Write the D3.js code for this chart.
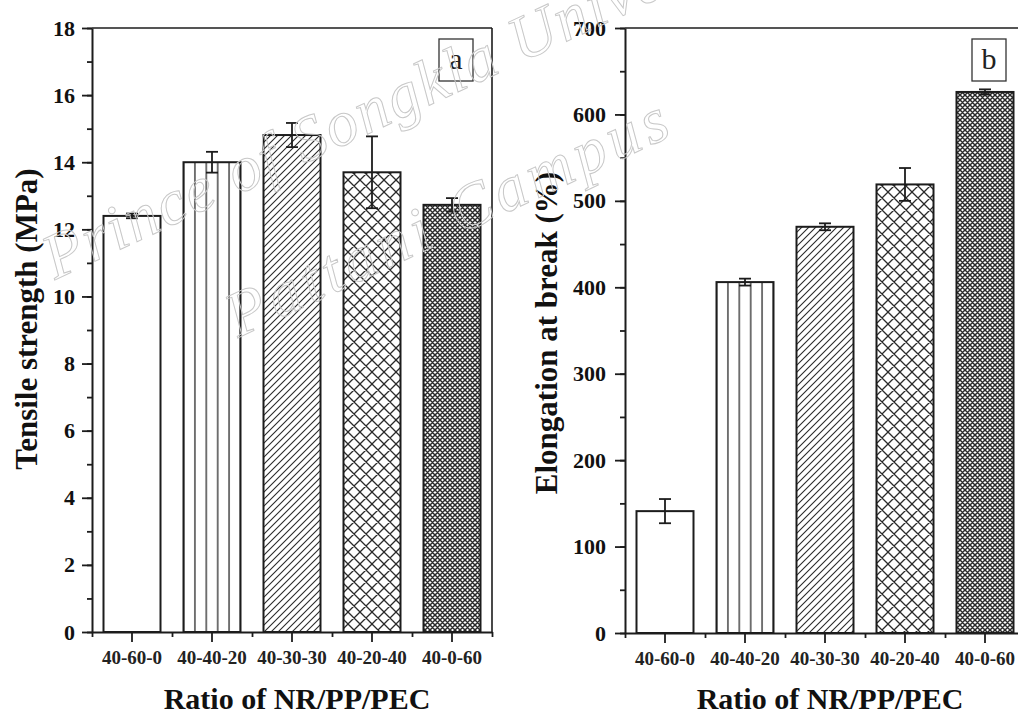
<!DOCTYPE html>
<html>
<head>
<meta charset="utf-8">
<script src="https://cdnjs.cloudflare.com/ajax/libs/d3/7.8.5/d3.min.js"></script>
<style>
  html, body { margin: 0; padding: 0; background: #fff; }
  svg { display: block; }
  text { font-family: "Liberation Serif", "DejaVu Serif", "Times New Roman", serif; }
</style>
</head>
<body>
<svg id="chart" width="1018" height="716"></svg>
<script>
// Blend ratios (NR/PP/PEC)
const categories = ["40-60-0", "40-40-20", "40-30-30", "40-20-40", "40-0-60"];

// (a) Tensile strength, MPa
const tensileStrength = [12.40, 14.00, 14.81, 13.70, 12.73];
const tensileError    = [0.07, 0.31, 0.36, 1.07, 0.20];
const tensileMajor = d3.range(0, 19, 2);
const tensileMinor = d3.range(0, 19, 1);

// (b) Elongation at break, %
const elongation      = [141, 406, 470, 519, 626];
const elongationError = [14, 4, 4, 19, 3];
const elongMajor = d3.range(0, 701, 100);
const elongMinor = d3.range(0, 701, 50);

const svg = d3.select("#chart");
const defs = svg.append("defs");
const ink = "#1c1c1c";

// Shared hatch patterns
function hatch(id, size, d, width) {
  const p = defs.append("pattern").attr("id", id)
    .attr("patternUnits", "userSpaceOnUse")
    .attr("width", size).attr("height", size);
  p.append("rect").attr("width", size).attr("height", size).attr("fill", "#fff");
  p.append("path").attr("d", d).attr("stroke", "#2a2a2a")
    .attr("stroke-width", width).attr("fill", "none");
}
hatch("diag", 7, "M-1,1 L1,-1 M0,7 L7,0 M6,8 L8,6", 1.1);
hatch("cross", 12, "M0,0 L12,12 M12,0 L0,12 M-1,1 L1,-1 M11,13 L13,11 M-1,11 L1,13 M11,-1 L13,1", 1.3);
hatch("fine", 5, "M0,0 L5,5 M5,0 L0,5 M-1,1 L1,-1 M4,6 L6,4 M-1,4 L1,6 M4,-1 L6,1", 1.5);

function drawPanel(p) {
  const g = svg.append("g");
  const x = d3.scaleBand().domain(categories)
    .range([p.left, p.right]).paddingInner(0.2875).paddingOuter(0.14375);
  const slot = d3.scaleLinear().domain([0, categories.length]).range([p.left, p.right]);
  const y = d3.scaleLinear().domain([0, p.yMax]).range([p.bottom, p.top]);

  // vertical-line fill, anchored to its bar
  const vw = x.bandwidth() / 5;
  const vp = defs.append("pattern").attr("id", "vert-" + p.id)
    .attr("patternUnits", "userSpaceOnUse")
    .attr("x", x(categories[1]) - vw / 2).attr("y", 0)
    .attr("width", vw).attr("height", 10);
  vp.append("rect").attr("width", vw).attr("height", 10).attr("fill", "#fff");
  vp.append("line").attr("x1", vw / 2).attr("x2", vw / 2).attr("y1", 0).attr("y2", 10)
    .attr("stroke", "#2a2a2a").attr("stroke-width", 1.3);

  const fills = ["#fff", "url(#vert-" + p.id + ")", "url(#diag)", "url(#cross)", "url(#fine)"];

  // frame (top and right)
  g.append("line").attr("x1", p.left).attr("x2", p.right).attr("y1", p.top).attr("y2", p.top)
    .attr("stroke", ink).attr("stroke-width", 1.6);
  g.append("line").attr("x1", p.right).attr("x2", p.right).attr("y1", p.top).attr("y2", p.bottom)
    .attr("stroke", ink).attr("stroke-width", 1.6);

  // bars
  g.selectAll("rect.bar").data(p.values).join("rect").attr("class", "bar")
    .attr("x", (d, i) => x(categories[i]))
    .attr("y", d => y(d))
    .attr("width", x.bandwidth())
    .attr("height", d => y(0) - y(d))
    .attr("fill", (d, i) => fills[i])
    .attr("stroke", ink).attr("stroke-width", 2);

  // error bars
  const eb = g.selectAll("g.err").data(p.values).join("g").attr("class", "err")
    .attr("stroke", ink).attr("stroke-width", 1.8);
  const cx = i => x(categories[i]) + x.bandwidth() / 2;
  eb.append("line").attr("x1", (d, i) => cx(i)).attr("x2", (d, i) => cx(i))
    .attr("y1", (d, i) => y(d - p.errors[i])).attr("y2", (d, i) => y(d + p.errors[i]));
  eb.append("line").attr("x1", (d, i) => cx(i) - 6).attr("x2", (d, i) => cx(i) + 6)
    .attr("y1", (d, i) => y(d + p.errors[i])).attr("y2", (d, i) => y(d + p.errors[i]));
  eb.append("line").attr("x1", (d, i) => cx(i) - 6).attr("x2", (d, i) => cx(i) + 6)
    .attr("y1", (d, i) => y(d - p.errors[i])).attr("y2", (d, i) => y(d - p.errors[i]));

  // y axis
  const ya = g.append("g").attr("transform", `translate(${p.left},0)`)
    .call(d3.axisLeft(y).tickValues(p.major).tickSize(10).tickPadding(p.pad).tickSizeOuter(0));
  g.append("g").attr("transform", `translate(${p.left},0)`)
    .call(d3.axisLeft(y).tickValues(p.minor).tickSize(5).tickFormat(""))
    .call(s => s.select(".domain").remove());
  ya.selectAll("text").attr("font-size", 22).attr("font-weight", "bold")
    .attr("font-family", "Liberation Serif, serif").attr("fill", "#111");

  // x axis
  const xa = g.append("g").attr("transform", `translate(0,${p.bottom})`)
    .call(d3.axisBottom(x).tickSize(10).tickPadding(9).tickSizeOuter(0));
  g.append("g").attr("transform", `translate(0,${p.bottom})`)
    .call(d3.axisBottom(slot).tickValues(d3.range(0, categories.length + 1)).tickSize(5).tickFormat(""))
    .call(s => s.select(".domain").remove());
  xa.selectAll("text").attr("font-size", 19).attr("font-weight", "bold")
    .attr("font-family", "Liberation Serif, serif").attr("fill", "#222");

  svg.selectAll(".tick line").attr("stroke", ink).attr("stroke-width", 1.8);
  svg.selectAll(".domain").attr("stroke", ink).attr("stroke-width", 2);

  // panel letter
  const bx = p.right - 19 - 34, by = p.top + 11;
  g.append("rect").attr("x", bx).attr("y", by).attr("width", 34).attr("height", 42)
    .attr("fill", "#fff").attr("stroke", "#333").attr("stroke-width", 1.3);
  g.append("text").attr("x", bx + 17).attr("y", by + 30).attr("text-anchor", "middle")
    .attr("font-size", 30).attr("fill", "#222").text(p.letter);

  // axis titles
  g.append("text").attr("transform", `translate(${p.yTitleX},${p.yTitleY}) rotate(-90)`)
    .attr("text-anchor", "middle").attr("font-size", 31).attr("font-weight", "bold")
    .attr("fill", "#111").text(p.yTitle);
  g.append("text").attr("x", p.xTitleX).attr("y", 709)
    .attr("text-anchor", "middle").attr("font-size", 30).attr("font-weight", "bold")
    .attr("fill", "#111").text("Ratio of NR/PP/PEC");
}

drawPanel({
  id: "a", left: 92, right: 492, top: 28, bottom: 632, yMax: 18,
  values: tensileStrength, errors: tensileError,
  major: tensileMajor, minor: tensileMinor, pad: 7,
  letter: "a", yTitle: "Tensile strength (MPa)", yTitleX: 37, yTitleY: 319, xTitleX: 297
});
drawPanel({
  id: "b", left: 625, right: 1025, top: 28, bottom: 633, yMax: 700,
  values: elongation, errors: elongationError,
  major: elongMajor, minor: elongMinor, pad: 9,
  letter: "b", yTitle: "Elongation at break (%)", yTitleX: 557, yTitleY: 333, xTitleX: 830
});

// Faint outlined watermark laid over the plots
const wm = svg.append("g").attr("fill", "none").attr("stroke", "#c8c8c8")
  .attr("stroke-width", 1).attr("font-style", "italic").attr("font-size", 64)
  .attr("font-family", "Liberation Serif, DejaVu Serif, serif");
wm.append("text").attr("transform", "translate(55,280) rotate(-25)")
  .attr("textLength", 800).attr("lengthAdjust", "spacing")
  .text("Prince of Songkla University");
wm.append("text").attr("transform", "translate(238,338) rotate(-25)")
  .attr("textLength", 480).attr("lengthAdjust", "spacing")
  .text("Pattani Campus");
</script>
</body>
</html>
